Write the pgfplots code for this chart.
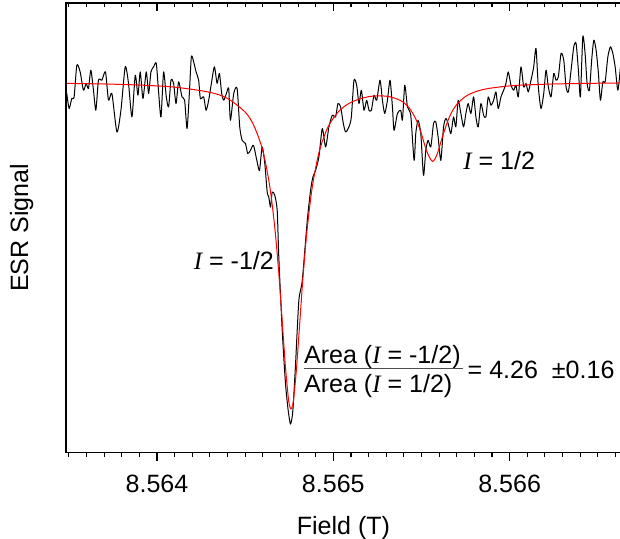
\documentclass[border=0pt]{standalone}
\usepackage{pgfplots}
\pgfplotsset{compat=1.18}
\usepackage{fontspec}
\setmainfont{Liberation Sans}
\newfontfamily\serifit{Liberation Serif}
\newcommand{\lbl}{\fontsize{25}{30}\selectfont}
\newcommand{\Ivar}{{\serifit\itshape I}}

% x: field offset from 8.564 T, in mT (ticks relabelled); y: arbitrary signal units
\pgfplotsset{esrframe/.style={
    scale only axis, width=554.3pt, height=448.7pt,
    at={(0,0)}, anchor=south west,
    xmin=-0.517, xmax=2.632, ymin=-0.9, ymax=4.485,
    axis line style={line width=1.6pt},
    every tick/.style={black, line width=1.1pt},
    major tick length=8pt, minor tick length=4pt,
    xtick={0,1,2}, minor xtick={-0.5,-0.4,...,2.6},
}}

\begin{document}
\begin{tikzpicture}
\begin{axis}[esrframe,
    xtick pos=left, tick align=outside,
    ytick=\empty,
    xticklabels={8.564,8.565,8.566},
    xticklabel style={font=\lbl, anchor=base, yshift=-32pt},
    xlabel={Field (T)}, ylabel={ESR Signal},
    xlabel style={font=\lbl, at={([yshift=-82.3pt]axis description cs:0.5,0)}, anchor=base},
    ylabel style={font=\lbl, at={([xshift=-37.7pt]axis description cs:0,0.5)}, anchor=base},
]
% measured signal
\addplot[black, line width=1pt, line join=round, smooth, tension=0.4] coordinates {
(-0.5114,3.401) (-0.4983,3.221) (-0.4830,3.341) (-0.4699,3.360) (-0.4545,3.740)
(-0.4358,3.660) (-0.4170,3.440) (-0.4017,3.521) (-0.3886,3.461) (-0.3750,3.680)
(-0.3602,3.440) (-0.3466,3.200) (-0.3318,3.560) (-0.3125,3.560) (-0.2920,3.660)
(-0.2750,3.320) (-0.2557,3.401) (-0.2273,2.940) (-0.2045,3.200) (-0.1801,3.720)
(-0.1614,3.521) (-0.1420,3.120) (-0.1233,3.620) (-0.1080,3.380) (-0.0949,3.660)
(-0.0795,3.341) (-0.0608,3.660) (-0.0477,3.401) (-0.0341,3.660) (-0.0193,3.720)
(-0.0040,3.761) (0.0091,3.420) (0.0227,3.120) (0.0375,3.660) (0.0528,3.360)
(0.0659,3.240) (0.0795,3.560) (0.0943,3.521) (0.1080,3.281) (0.1227,3.540)
(0.1420,3.360) (0.1568,3.320) (0.1705,2.981) (0.1835,3.401) (0.1949,3.840)
(0.2080,3.780) (0.2216,3.660) (0.2364,3.560) (0.2460,3.341) (0.2648,3.360)
(0.2784,3.200) (0.2932,3.320) (0.3085,3.521) (0.3256,3.720) (0.3409,3.521)
(0.3540,3.641) (0.3670,3.401) (0.3784,3.320) (0.3938,3.401) (0.4068,3.461)
(0.4165,3.080) (0.4352,3.401) (0.4545,3.461) (0.4693,3.000) (0.4830,2.840)
(0.5017,2.801) (0.5148,2.681) (0.5301,2.720) (0.5472,2.780) (0.5682,2.580)
(0.5813,2.480) (0.5966,2.760) (0.6114,2.561) (0.6250,2.220) (0.6341,2.160)
(0.6438,2.040) (0.6534,2.220) (0.6682,2.180) (0.6818,2.000) (0.6909,1.440)
(0.7102,0.560) (0.7290,-0.079) (0.7443,-0.400) (0.7574,-0.559) (0.7705,-0.400)
(0.7858,0.161) (0.8045,0.920) (0.8239,1.160) (0.8523,1.880) (0.8710,2.240)
(0.8841,2.400) (0.8994,2.480) (0.9182,2.640) (0.9375,2.981) (0.9563,2.760)
(0.9750,3.000) (0.9943,3.140) (1.0131,3.120) (1.0261,3.281) (1.0415,3.240)
(1.0568,3.041) (1.0699,2.940) (1.0886,3.000) (1.1023,3.120) (1.1170,3.560)
(1.1324,3.500) (1.1455,3.281) (1.1591,3.440) (1.1739,3.200) (1.1892,3.320)
(1.2023,3.200) (1.2159,3.200) (1.2307,3.380) (1.2460,3.320) (1.2648,3.560)
(1.2784,3.320) (1.2915,3.161) (1.3068,3.320) (1.3216,3.560) (1.3352,3.240)
(1.3443,2.960) (1.3636,3.161) (1.3824,3.200) (1.3920,3.080) (1.4051,3.500)
(1.4205,3.240) (1.4392,3.140) (1.4580,2.600) (1.4676,2.921) (1.4807,3.080)
(1.4960,2.921) (1.5114,2.420) (1.5244,2.720) (1.5375,2.840) (1.5528,2.760)
(1.5682,3.041) (1.5813,3.060) (1.5943,2.880) (1.6097,2.600) (1.6250,3.000)
(1.6381,3.101) (1.6511,3.041) (1.6665,2.921) (1.6818,3.120) (1.6949,3.000)
(1.7080,3.320) (1.7233,3.161) (1.7386,3.000) (1.7517,3.161) (1.7648,3.281)
(1.7801,3.161) (1.7955,3.360) (1.8085,3.120) (1.8216,3.000) (1.8369,3.281)
(1.8523,3.140) (1.8653,3.120) (1.8784,3.360) (1.8938,3.260) (1.9091,3.320)
(1.9222,3.420) (1.9352,3.221) (1.9506,3.360) (1.9659,3.440) (1.9790,3.521)
(1.9920,3.660) (2.0074,3.500) (2.0227,3.440) (2.0358,3.500) (2.0489,3.360)
(2.0642,3.720) (2.0795,3.480) (2.0926,3.521) (2.1057,3.420) (2.1210,3.560)
(2.1364,3.720) (2.1494,3.941) (2.1625,3.480) (2.1778,3.221) (2.1932,3.401)
(2.2063,3.680) (2.2193,3.480) (2.2347,3.360) (2.2500,3.641) (2.2631,3.560)
(2.2761,3.600) (2.2915,3.881) (2.3068,3.800) (2.3199,3.480) (2.3330,3.420)
(2.3483,3.680) (2.3636,3.960) (2.3767,4.001) (2.3898,3.680) (2.4011,3.360)
(2.4148,4.080) (2.4278,3.881) (2.4392,3.521) (2.4523,3.440) (2.4659,3.821)
(2.4773,4.040) (2.4903,3.920) (2.5034,3.641) (2.5148,3.320) (2.5284,3.540)
(2.5415,3.540) (2.5568,3.840) (2.5716,3.960) (2.5852,3.881) (2.5983,3.720)
(2.6136,3.440) (2.6284,3.720)
};
% two-line fit
\addplot[red, line width=1pt, smooth] coordinates {
(-0.517,3.522) (-0.3,3.515) (-0.1,3.502) (0.1,3.477) (0.3,3.415) (0.4,3.341)
(0.5,3.178) (0.55,3.013) (0.6,2.716) (0.64,2.283) (0.67,1.754) (0.69,1.268)
(0.70,0.984) (0.71,0.681) (0.72,0.375) (0.73,0.086) (0.745,-0.248) (0.7525,-0.344)
(0.76,-0.378) (0.7675,-0.348) (0.775,-0.256) (0.79,0.075) (0.80,0.360) (0.81,0.665)
(0.82,0.968) (0.83,1.252) (0.85,1.741) (0.88,2.271) (0.92,2.704) (0.97,3.000)
(1.03,3.185) (1.1,3.295) (1.2,3.363) (1.3,3.369) (1.38,3.318) (1.43,3.228)
(1.47,3.085) (1.5,2.914) (1.53,2.707) (1.5625,2.588) (1.59,2.682) (1.62,2.892)
(1.66,3.128) (1.7,3.270) (1.76,3.379) (1.85,3.449) (2.0,3.492) (2.2,3.512)
(2.4,3.521) (2.632,3.527)
};
\node[font=\lbl, anchor=base west, inner sep=0] at (0.208,1.289) {\Ivar{} = -1/2};
\node[font=\lbl, anchor=base west, inner sep=0] at (1.736,2.489) {\Ivar{} = 1/2};
\node[font=\lbl, anchor=base west, inner sep=0] at (0.833,0.168) {Area (\Ivar{} = -1/2)};
\draw[line width=1.6pt, black!70] (0.833,0.108) -- (1.733,0.108);
\node[font=\lbl, anchor=base west, inner sep=0] at (0.833,-0.187) {Area (\Ivar{} = 1/2)};
\node[font=\lbl, anchor=base west, inner sep=0] at (1.761,-0.019) {= 4.26\ \ ±0.16};
\end{axis}
% top ticks and left ticks point inward
\begin{axis}[esrframe,
    xtick pos=right, ytick pos=left, tick align=inside,
    xticklabels={}, ytick=\empty, minor ytick={0,1,2,3,4},
]
\addplot[draw=none] coordinates {(0,0)};
\end{axis}
% the right-hand frame line lies just outside the page, as in the cropped original
\pgfresetboundingbox
\path[use as bounding box] (-65.7pt,-86.3pt) rectangle (553.2pt,451.7pt);
\end{tikzpicture}
\end{document}
